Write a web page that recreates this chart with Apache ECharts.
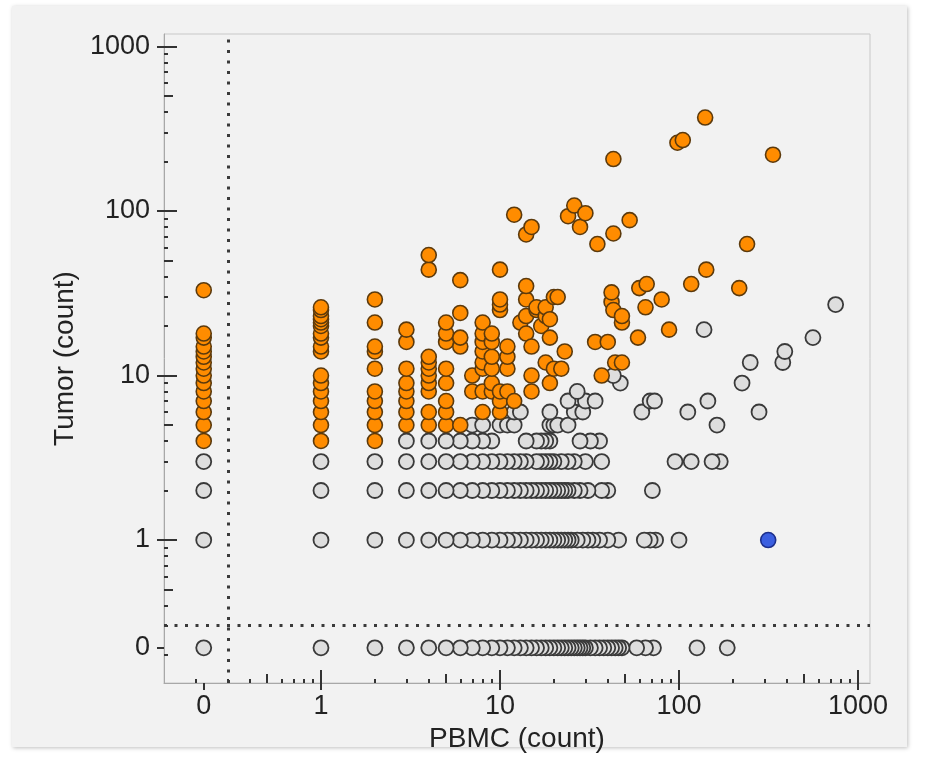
<!DOCTYPE html>
<html>
<head>
<meta charset="utf-8">
<script src="https://cdn.jsdelivr.net/npm/echarts@6/dist/echarts.min.js"></script>
<style>
  html, body { margin: 0; padding: 0; background: #fff; }
  #card { position: absolute; left: 12px; top: 6px; width: 895px; height: 741px; background: #f2f2f2; box-shadow: 1px 1px 4px rgba(0,0,0,0.25); }
  #main { position: absolute; left: 0; top: 0; width: 926px; height: 774px; }
</style>
</head>
<body>
<div id="card"></div>
<div id="main"></div>
<script>
// 刻度（计数），0 单独画在 1 的左边
var tickCounts = [0, 1, 10, 100, 1000];
var tickLabels = ['0', '1', '10', '100', '1000'];

// 灰色点：按 Tumor 计数分行，数组里是 PBMC 计数
var pbmcAtTumor0 = [0, 1, 2, 3, 4, 5, 6, 7, 8, 9, 10, 11, 12, 13, 14, 15, 16, 17, 18, 19, 20, 21, 22, 23, 24, 25, 26, 27, 28, 29, 30, 32, 34, 36, 38, 40, 42, 44, 46, 48, 58, 65, 72, 126, 186];
var pbmcAtTumor1 = [0, 1, 2, 3, 4, 5, 6, 7, 8, 9, 10, 11, 12, 13, 14, 15, 16, 17, 18, 19, 20, 21, 22, 23, 24, 25, 27, 29, 31, 33, 36, 40, 46, 64, 69, 74, 100];
var pbmcAtTumor2 = [0, 1, 2, 3, 4, 5, 6, 7, 8, 9, 10, 11, 12, 13, 14, 15, 16, 17, 18, 19, 20, 21, 22, 23, 24, 26, 28, 31, 37, 40, 71];
var pbmcAtTumor3 = [0, 1, 2, 3, 4, 5, 6, 7, 8, 9, 10, 11, 12, 13, 14, 16, 17, 18, 19, 20, 22, 24, 26, 30, 37, 95, 117, 153, 170];
var pbmcAtTumor4 = [3, 4, 5, 6, 7, 8, 9, 14, 16, 17, 18, 19, 28, 32, 36];
// 其余灰色点 [PBMC, Tumor]
var otherGray = [
  [7, 5], [8, 5], [10, 5], [11, 5], [12, 5], [19, 5], [20, 5], [21, 5], [24, 5], [163, 5],
  [12, 6], [13, 6], [19, 6], [26, 6], [29, 6], [62, 6], [112, 6], [280, 6],
  [24, 7], [30, 7], [34, 7], [69, 7], [73, 7], [145, 7],
  [27, 8], [47, 9], [225, 9], [43, 10], [250, 12], [380, 12], [390, 14], [560, 17], [138, 19], [750, 27]
];

// 橙色点 [PBMC, Tumor]
var orangePairs = [
  [0, 4], [0, 5], [0, 6], [0, 7], [0, 8], [0, 9], [0, 10], [0, 11], [0, 12], [0, 13], [0, 14], [0, 15], [0, 17], [0, 18], [0, 33],
  [1, 4], [1, 5], [1, 6], [1, 7], [1, 8], [1, 9], [1, 10], [1, 14], [1, 15], [1, 17], [1, 18], [1, 20], [1, 21], [1, 22], [1, 23], [1, 25], [1, 26],
  [2, 4], [2, 5], [2, 6], [2, 7], [2, 8], [2, 11], [2, 14], [2, 15], [2, 21], [2, 29],
  [3, 5], [3, 6], [3, 7], [3, 8], [3, 9], [3, 11], [3, 16], [3, 19],
  [4, 5], [4, 6], [4, 8], [4, 9], [4, 10], [4, 11], [4, 12], [4, 13], [4, 44], [4, 54],
  [5, 5], [5, 6], [5, 7], [5, 9], [5, 11], [5, 16], [5, 18], [5, 21],
  [6, 5], [6, 15], [6, 17], [6, 24], [6, 38],
  [7, 8], [7, 10],
  [8, 6], [8, 8], [8, 11], [8, 12], [8, 14], [8, 16], [8, 18], [8, 21],
  [9, 8], [9, 9], [9, 11], [9, 13], [9, 16], [9, 18],
  [10, 6], [10, 7], [10, 8], [10, 25], [10, 27], [10, 29], [10, 44],
  [11, 8], [11, 11], [11, 13], [11, 15],
  [12, 7], [12, 95], [13, 21],
  [14, 18], [14, 23], [14, 29], [14, 35], [14, 72],
  [15, 8], [15, 10], [15, 15], [15, 80],
  [16, 25], [16, 26], [17, 20], [18, 12], [18, 23], [18, 26],
  [19, 9], [19, 17], [19, 22], [20, 11], [20, 30], [21, 30], [22, 11], [23, 14],
  [24, 93], [26, 108], [28, 80], [30, 97], [34, 16], [35, 63], [37, 10], [40, 16],
  [42, 28], [42, 32], [43, 25], [43, 73], [43, 207], [44, 12], [48, 12], [48, 21], [48, 23],
  [53, 88], [59, 17], [60, 34], [65, 26], [66, 36], [80, 29], [88, 19],
  [98, 260], [105, 270], [117, 36], [140, 370], [142, 44], [217, 34], [240, 63], [335, 220]
];

// 蓝色点
var bluePairs = [[315, 1]];

// 0 在对数轴上的位置，以及虚线位置
var ZERO_AT = -0.655;
var GUIDE_AT = -0.523;

function toPos(v) {
  return v === 0 ? ZERO_AT : Math.log10(v);
}
function toPoint(p) {
  return [toPos(p[0]), toPos(p[1])];
}

var grayPairs = [];
[[0, pbmcAtTumor0], [1, pbmcAtTumor1], [2, pbmcAtTumor2], [3, pbmcAtTumor3], [4, pbmcAtTumor4]].forEach(function (row) {
  // 从右往左画，左边的圈压在右边的上面
  row[1].slice().reverse().forEach(function (x) { grayPairs.push([x, row[0]]); });
});
grayPairs = grayPairs.concat(otherGray);

var labelPos = tickCounts.map(toPos);
var majorPos = tickCounts.slice(1).map(toPos);
var midPos = [0.5, 5, 50, 500].map(Math.log10);
var minorPos = [];
[0.1, 1, 10, 100].forEach(function (k) {
  [2, 3, 4, 6, 7, 8, 9].forEach(function (m) { minorPos.push(Math.log10(m * k)); });
});

function labelFor(value) {
  for (var i = 0; i < labelPos.length; i++) {
    if (Math.abs(labelPos[i] - value) < 1e-6) return tickLabels[i];
  }
  return '';
}

var tickColor = '#333';
var fontFamily = '"Liberation Sans", Arial, sans-serif';

// 同一位置叠几条轴，画不同长度的刻度
function makeAxes(dim, min, max, name, nameGap) {
  var position = dim === 'x' ? 'bottom' : 'left';
  function base() {
    return {
      type: 'value', gridIndex: 0, position: position, min: min, max: max,
      splitLine: { show: false },
      axisLine: { show: false, onZero: false },
      axisLabel: { show: false },
      axisTick: { show: false }
    };
  }
  var main = base();
  main.axisLine = { show: true, onZero: false, lineStyle: { color: '#a8a8a8', width: 1 } };
  main.axisTick = { show: true, customValues: labelPos, length: 7, lineStyle: { color: tickColor, width: 2 } };
  main.axisLabel = {
    show: true, customValues: labelPos, formatter: labelFor,
    fontSize: 27, color: '#222', fontFamily: fontFamily,
    margin: dim === 'x' ? 10 : 14
  };
  main.name = name;
  main.nameLocation = 'middle';
  main.nameGap = nameGap;
  main.nameTextStyle = { fontSize: 28, color: '#222', fontFamily: fontFamily };

  var inMajor = base();
  inMajor.axisTick = { show: true, inside: true, customValues: majorPos, length: 13, lineStyle: { color: tickColor, width: 2 } };
  var inMid = base();
  inMid.axisTick = { show: true, inside: true, customValues: midPos, length: 9, lineStyle: { color: tickColor, width: 2 } };
  var inMinor = base();
  inMinor.axisTick = { show: true, inside: true, customValues: minorPos, length: 4, lineStyle: { color: tickColor, width: 2 } };
  return [main, inMajor, inMid, inMinor];
}

var myChart = echarts.init(document.getElementById('main'), null, { renderer: 'canvas' });

var option = {
  backgroundColor: 'transparent',
  animation: false,
  grid: {
    left: 164, right: 56, top: 34, bottom: 91,
    show: true, borderColor: '#c8c8c8', borderWidth: 1, backgroundColor: 'transparent',
    containLabel: false, outerBoundsMode: 'none'
  },
  xAxis: makeAxes('x', -0.877, 3.067, 'PBMC (count)', 33),
  yAxis: makeAxes('y', -0.869, 3.076, 'Tumor (count)', 82),
  series: [
    {
      name: 'other',
      type: 'scatter',
      xAxisIndex: 0, yAxisIndex: 0,
      symbolSize: 15,
      data: grayPairs.map(toPoint),
      itemStyle: { color: '#dedede', borderColor: '#3a3a3a', borderWidth: 1.8, opacity: 1 },
      markLine: {
        silent: true,
        symbol: 'none',
        label: { show: false },
        lineStyle: { type: [3, 7.5], width: 3, color: '#3a3a3a' },
        data: [{ xAxis: GUIDE_AT }, { yAxis: GUIDE_AT }]
      }
    },
    {
      name: 'expanded',
      type: 'scatter',
      xAxisIndex: 0, yAxisIndex: 0,
      symbolSize: 15,
      data: orangePairs.map(toPoint),
      itemStyle: { color: '#ff8c00', borderColor: '#5c3a0c', borderWidth: 1.6, opacity: 1 }
    },
    {
      name: 'highlight',
      type: 'scatter',
      xAxisIndex: 0, yAxisIndex: 0,
      symbolSize: 15,
      data: bluePairs.map(toPoint),
      itemStyle: { color: '#3b5fe0', borderColor: '#1c2f8c', borderWidth: 1.6, opacity: 1 }
    }
  ]
};

myChart.setOption(option);
</script>
</body>
</html>
